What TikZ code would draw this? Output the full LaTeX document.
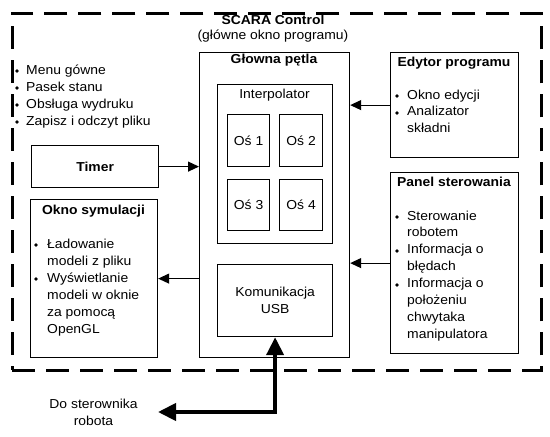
\documentclass[tikz,border=0pt]{standalone}
\usepackage{fontspec}
\setmainfont{Liberation Sans}[FakeStretch=1.07]
\usetikzlibrary{arrows.meta}
\begin{document}
\begin{tikzpicture}[x=1pt,y=-1pt,
  box/.style={draw, line width=1.2pt, inner sep=0pt, anchor=north west, font=\fontsize{13}{17}\selectfont, align=center},
  outerbox/.style={draw, line width=2.5pt, dash pattern=on 23pt off 11pt, inner sep=0pt, anchor=north west},
  txt/.style={inner sep=0pt, anchor=base west, font=\fontsize{13}{17}\selectfont},
  ctxt/.style={inner sep=0pt, anchor=base, font=\fontsize{13}{17}\selectfont},
  btxt/.style={inner sep=0pt, anchor=base, font=\fontsize{13}{17}\selectfont\bfseries},
  bul/.style={fill, circle, inner sep=0pt, minimum size=3.6pt},
  arr/.style={line width=1.2pt, -{Triangle[length=11pt,width=10pt]}},
  big/.style={line width=4pt, line join=miter, {Triangle[length=18pt,width=17pt]}-{Triangle[length=18pt,width=17pt]}}
]
\useasboundingbox (0,0) rectangle (550,437);

% outer dashed frame
\node[outerbox, minimum width=529pt, minimum height=357pt] (scara) at (11,12) {};
\node[btxt] (title) at (273,24) {SCARA Control};
\node[ctxt] (subtitle) at (273,39) {(główne okno programu)};

% main loop
\node[box, minimum width=150pt, minimum height=305pt] (glowna) at (199,52) {};
\node[btxt] (glownat) at (274,63) {Głowna pętla};
\node[box, minimum width=115pt, minimum height=159pt] (interp) at (217,84) {};
\node[ctxt] (interpt) at (274.5,98) {Interpolator};
\node[box, minimum width=42pt, minimum height=52pt] (os1) at (227,114) {Oś 1};
\node[box, minimum width=43pt, minimum height=52pt] (os2) at (279,114) {Oś 2};
\node[box, minimum width=42pt, minimum height=51pt] (os3) at (227,179) {Oś 3};
\node[box, minimum width=43pt, minimum height=51pt] (os4) at (279,179) {Oś 4};
\node[box, minimum width=115pt, minimum height=72pt] (usb) at (217,264) {Komunikacja\\USB};

% timer
\node[box, minimum width=127pt, minimum height=42pt, font=\fontsize{13}{17}\selectfont\bfseries] (timer) at (31,145) {Timer};

% top-left list
\foreach \t [count=\i] in {Menu gówne, Pasek stanu, Obsługa wydruku, Zapisz i odczyt pliku} {
  \pgfmathsetmacro\yy{74+17*(\i-1)}
  \node[bul] (lb\i) at (17,\yy-3) {};
  \node[txt] (lt\i) at (26,\yy) {\t};
}

% okno symulacji
\node[box, minimum width=127pt, minimum height=158pt] (okno) at (30,199) {};
\node[btxt] (oknot) at (93.5,214) {Okno symulacji};
\node[bul] (ob1) at (36,245) {};
\node[bul] (ob2) at (36,279) {};
\foreach \t [count=\i] in {Ładowanie, modeli z pliku, Wyświetlanie, modeli w oknie, za pomocą, OpenGL} {
  \pgfmathsetmacro\yy{248+17*(\i-1)}
  \node[txt] (ol\i) at (47,\yy) {\t};
}

% edytor programu
\node[box, minimum width=128pt, minimum height=105pt] (edytor) at (390,52) {};
\node[btxt] (edytort) at (454,66) {Edytor programu};
\node[bul] (eb1) at (397,96) {};
\node[bul] (eb2) at (397,113) {};
\foreach \t [count=\i] in {Okno edycji, Analizator, składni} {
  \pgfmathsetmacro\yy{99+16.5*(\i-1)}
  \node[txt] (el\i) at (407,\yy) {\t};
}

% panel sterowania
\node[box, minimum width=128pt, minimum height=181pt] (panel) at (390,172) {};
\node[btxt] (panelt) at (454,186) {Panel sterowania};
\node[bul] (pb1) at (397,217) {};
\node[bul] (pb2) at (397,251) {};
\node[bul] (pb3) at (397,285) {};
\foreach \t [count=\i] in {Sterowanie, robotem, Informacja o, błędach, Informacja o, położeniu, chwytaka, manipulatora} {
  \pgfmathsetmacro\yy{220+16.9*(\i-1)}
  \node[txt] (pl\i) at (407,\yy) {\t};
}

% connectors
\draw[arr] (timer.east) -- (timer.east -| glowna.west);
\draw[arr] (edytor.west) -- (edytor.west -| glowna.east);
\draw[arr] (panel.west) -- (panel.west -| glowna.east);
\draw[arr] (glowna.west |- okno.east) -- (okno.east);

% external link
\node[ctxt] (do1) at (93.5,408) {Do sterownika};
\node[ctxt] (do2) at (93.5,425) {robota};
\coordinate (tipL) at (158,412);
\draw[big] (tipL) -| (usb.south);
\end{tikzpicture}
\end{document}
